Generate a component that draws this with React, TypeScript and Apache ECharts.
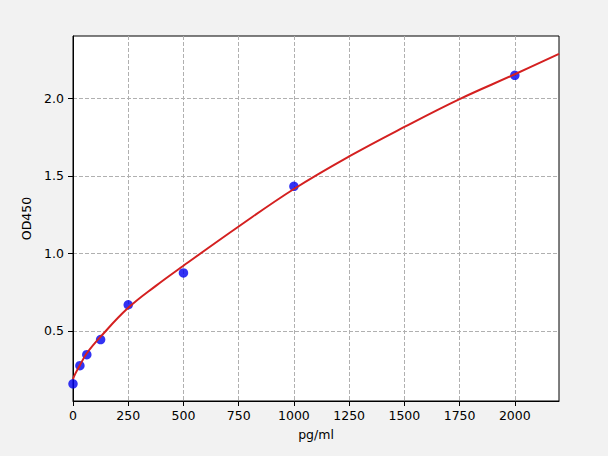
import { useEffect, useRef } from 'react';
import * as echarts from 'echarts';

// standard points (pg/ml -> OD450)
const concentrations = [0, 31.25, 62.5, 125, 250, 500, 1000, 2000];
const odValues = [0.158, 0.275, 0.346, 0.443, 0.668, 0.873, 1.432, 2.148];

// fitted curve
const curveX = [0, 10, 31.25, 62.5, 125, 250, 375, 500, 750, 1000, 1250, 1500, 1750, 2000, 2200];
const curveY = [0.188, 0.222, 0.278, 0.355, 0.462, 0.648, 0.79, 0.92, 1.173, 1.415, 1.625, 1.815, 1.995, 2.155, 2.287];

const xTicks = [0, 250, 500, 750, 1000, 1250, 1500, 1750, 2000];
const yTicks = [0.5, 1.0, 1.5, 2.0];

const font = 'DejaVu Sans';
const fontSize = 12.5;

const App = () => {
  const chartRef = useRef<HTMLDivElement>(null);

  useEffect(() => {
    if (!chartRef.current) return;
    document.body.style.margin = '0';
    document.body.style.background = '#f2f2f2';
    const chart = echarts.init(chartRef.current, undefined, { renderer: 'svg' });

    const option: echarts.EChartsOption = {
      animation: false,
      backgroundColor: '#f2f2f2',
      textStyle: { fontFamily: font },
      grid: {
        left: 73,
        top: 36,
        right: 49,
        bottom: 55,
        show: true,
        backgroundColor: '#ffffff',
        borderColor: '#000000',
        borderWidth: 1
      },
      xAxis: {
        type: 'value',
        min: 0,
        max: 2200,
        name: 'pg/ml',
        nameLocation: 'middle',
        nameGap: 27,
        nameTextStyle: { color: '#000', fontSize, fontFamily: font },
        axisLine: { show: true, lineStyle: { color: '#000', width: 1 } },
        axisTick: {
          show: true,
          length: 5,
          customValues: xTicks,
          lineStyle: { color: '#000' }
        },
        axisLabel: {
          customValues: xTicks,
          margin: 8,
          color: '#000',
          fontSize,
          fontFamily: font,
          formatter: (v: number) => String(v)
        },
        splitLine: {
          show: true,
          lineStyle: { color: '#b0b0b0', type: [4, 2], width: 1 }
        }
      },
      yAxis: {
        type: 'value',
        min: 0.047,
        max: 2.402,
        name: 'OD450',
        nameLocation: 'middle',
        nameGap: 37,
        nameTextStyle: { color: '#000', fontSize, fontFamily: font },
        axisLine: { show: true, lineStyle: { color: '#000', width: 1 } },
        axisTick: {
          show: true,
          length: 5,
          customValues: yTicks,
          lineStyle: { color: '#000' }
        },
        axisLabel: {
          customValues: yTicks,
          margin: 9,
          color: '#000',
          fontSize,
          fontFamily: font,
          formatter: (v: number) => v.toFixed(1)
        },
        splitLine: {
          show: true,
          lineStyle: { color: '#b0b0b0', type: [4, 2], width: 1 }
        }
      },
      series: [
        {
          type: 'scatter',
          symbol: 'circle',
          symbolSize: 9.5,
          itemStyle: { color: '#0000f0' },
          data: concentrations.map((c, i) => [c, odValues[i]]),
          z: 2
        },
        {
          type: 'line',
          smooth: 0.4,
          showSymbol: false,
          lineStyle: { color: '#d42020', width: 2 },
          data: curveX.map((c, i) => [c, curveY[i]]),
          z: 3
        }
      ]
    };

    chart.setOption(option);

    const handleResize = () => chart.resize();
    window.addEventListener('resize', handleResize);
    return () => {
      window.removeEventListener('resize', handleResize);
      chart.dispose();
    };
  }, []);

  return <div ref={chartRef} style={{ width: 608, height: 456 }} />;
};

export default App;
